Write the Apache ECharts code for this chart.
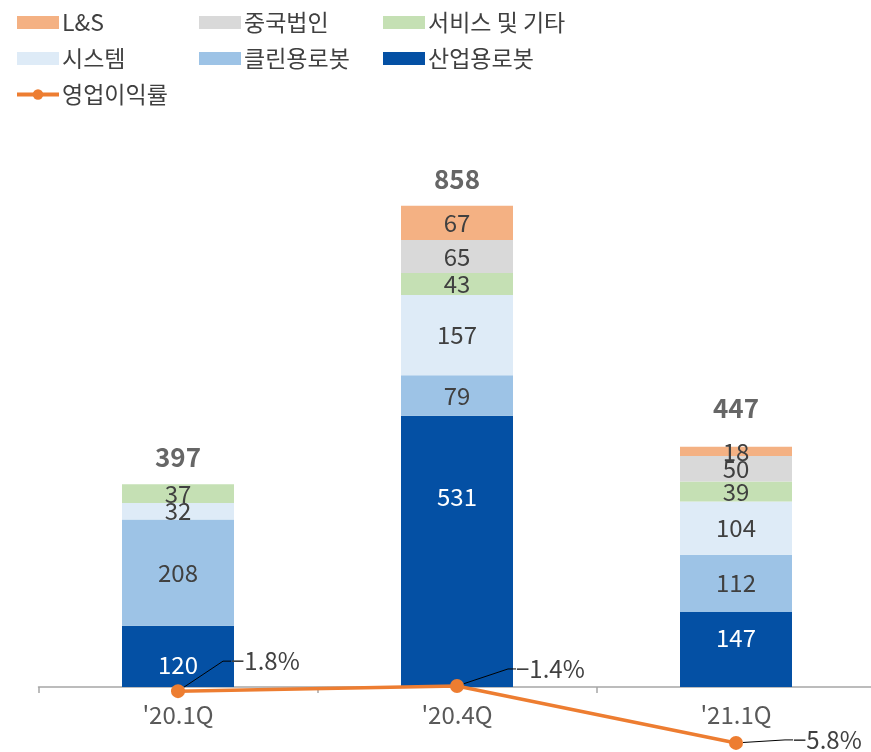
<!DOCTYPE html>
<html>
<head>
<meta charset="utf-8">
<script src="https://cdn.jsdelivr.net/npm/echarts@6/dist/echarts.min.js"></script>
<style>
  html, body { margin: 0; padding: 0; background: #fff; }
  #main { width: 871px; height: 752px; }
</style>
</head>
<body>
<div id="main"></div>
<script>
// 분기
const categories = ["'20.1Q", "'20.4Q", "'21.1Q"];
// 사업부문별 매출 (아래부터 쌓임)
const industrial = [120, 531, 147];   // 산업용로봇
const cleanRobot = [208, 79, 112];    // 클린용로봇
const system = [32, 157, 104];        // 시스템
const service = [37, 43, 39];         // 서비스 및 기타
const china = [null, 65, 50];         // 중국법인
const ls = [null, 67, 18];            // L&S
// 합계 라벨 (표기값)
const totals = [397, 858, 447];
// 영업이익률 (%)
const margin = [-1.8, -1.4, -5.8];

const FONT = '"Noto Sans CJK KR", "Noto Sans", sans-serif';
const TXT = '#404040';

// 막대 높이 합 (합계 라벨 위치용)
const stackSum = categories.map((c, i) =>
  [industrial, cleanRobot, system, service, china, ls].reduce((s, a) => s + (a[i] || 0), 0));

// labelShift: 원본처럼 라벨을 살짝 옮길 때 (인덱스별 세로 이동)
function barSeries(name, data, color, labelColor, labelShift) {
  return {
    name: name,
    type: 'bar',
    stack: 'sales',
    data: data.map((v, i) => (labelShift && labelShift[i])
      ? { value: v, label: { offset: [0, labelShift[i]] } } : v),
    barWidth: 112,
    itemStyle: { color: color },
    label: {
      show: true,
      position: 'inside',
      color: labelColor || TXT,
      fontSize: 24,
      fontFamily: FONT
    }
  };
}

const myChart = echarts.init(document.getElementById('main'));

// 영업이익률 라벨 이동량
const marginOffset = [[32, -30], [38, -17], [36, -3]];

function legendCol(names, left) {
  return {
    data: names.map(n => n === '영업이익률'
      ? { name: n, lineStyle: { width: 4 } } : { name: n, icon: 'rect' }),
    orient: 'vertical', left: left, top: 6,
    itemWidth: 42, itemHeight: 13, itemGap: 13,
    textStyle: { fontSize: 23, color: TXT, fontFamily: FONT, padding: [0, 0, 0, -2] }
  };
}

const option = {
  animation: false,
  textStyle: { fontFamily: FONT },
  legend: [
    legendCol(['L&S', '시스템', '영업이익률'], 10),
    legendCol(['중국법인', '클린용로봇'], 194),
    legendCol(['서비스 및 기타', '산업용로봇'], 378)
  ],
  grid: {
    left: 38.5,
    top: 176,
    width: 837,
    height: 511,
    outerBoundsMode: 'none',
    containLabel: false
  },
  xAxis: {
    type: 'category',
    data: categories,
    axisLine: { show: true, lineStyle: { color: '#A6A6A6', width: 1.5 } },
    axisTick: { show: true, length: 6, lineStyle: { color: '#A6A6A6', width: 1.5 } },
    axisLabel: { fontSize: 24, color: '#595959', margin: 16, fontFamily: FONT },
    splitLine: { show: false }
  },
  yAxis: [
    { type: 'value', min: 0, max: 1000, show: false, splitLine: { show: false } },
    { type: 'value', min: -1.48, max: 38, show: false, splitLine: { show: false } }
  ],
  series: [
    barSeries('산업용로봇', industrial, '#0450A4', '#ffffff', [9, -54, -12]),
    barSeries('클린용로봇', cleanRobot, '#9DC3E6'),
    barSeries('시스템', system, '#DEEBF7'),
    barSeries('서비스 및 기타', service, '#C5E0B4'),
    barSeries('중국법인', china, '#D9D9D9'),
    barSeries('L&S', ls, '#F4B183'),
    {
      name: '합계',
      type: 'scatter',
      data: stackSum.map((v, i) => i === 2 ? { value: v, label: { offset: [0, -12] } } : v),
      symbolSize: 0,
      silent: true,
      label: {
        show: true,
        position: 'top',
        distance: 14,
        fontSize: 26,
        fontWeight: 'bold',
        color: TXT,
        fontFamily: FONT,
        formatter: p => String(totals[p.dataIndex])
      }
    },
    {
      name: '영업이익률',
      type: 'line',
      yAxisIndex: 1,
      data: margin,
      clip: false,
      symbol: 'circle',
      symbolSize: 14,
      lineStyle: { color: '#ED7D31', width: 3.5 },
      itemStyle: { color: '#ED7D31' },
      z: 5,
      label: {
        show: true,
        position: 'right',
        fontSize: 24,
        color: TXT,
        fontFamily: FONT,
        padding: [0, 0, 0, 9],
        formatter: p => p.value.toFixed(1).replace('-', '\u2212') + '%'
      },
      labelLayout: p => ({ dx: marginOffset[p.dataIndex][0], dy: marginOffset[p.dataIndex][1] }),
      labelLine: { show: true, length2: 8, lineStyle: { color: '#000', width: 1 } }
    }
  ]
};

myChart.setOption(option);
</script>
</body>
</html>
